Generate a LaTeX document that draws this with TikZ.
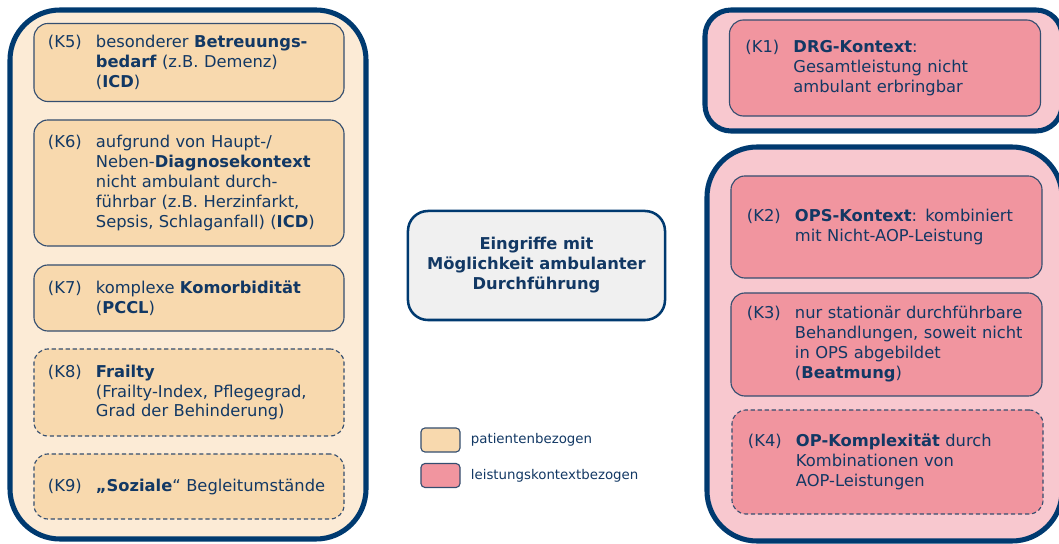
\documentclass[tikz,border=0pt]{standalone}
\usepackage{fontspec}
\setmainfont{DejaVu Sans}
\usetikzlibrary{positioning}

\definecolor{navy}{RGB}{0,58,112}
\definecolor{ink}{RGB}{18,56,100}
\definecolor{frame}{RGB}{52,78,112}
\definecolor{peachlight}{RGB}{252,235,214}
\definecolor{peach}{RGB}{248,217,174}
\definecolor{roselight}{RGB}{248,200,207}
\definecolor{rose}{RGB}{241,149,159}
\definecolor{hubgray}{RGB}{240,240,240}

% label (Kn) followed by the text block
\newcommand{\kitem}[2]{\makebox[1.2cm][l]{(#1)}\begin{minipage}[t]{5.8cm}#2\end{minipage}}

\begin{document}
\begin{tikzpicture}[
  x=0.025cm, y=-0.025cm,
  every node/.style = {font=\fontsize{11.6}{14.2}\selectfont, text=ink},
  container/.style  = {draw=navy, line width=3.6pt, rounded corners=1.25cm},
  pbox/.style       = {draw=frame, line width=0.8pt, fill=peach, rounded corners=0.35cm,
                       minimum width=7.75cm, text width=7.05cm, inner xsep=0.35cm, align=left},
  lbox/.style       = {pbox, fill=rose, minimum width=7.775cm, text width=6.975cm, inner xsep=0.4cm},
  soft/.style       = {dash pattern=on 3pt off 2pt},
  keybox/.style     = {draw=frame, line width=0.8pt, rounded corners=0.1cm,
                       minimum width=0.975cm, minimum height=0.6cm, inner sep=0pt},
  keytext/.style    = {font=\fontsize{9.5}{11}\selectfont, inner sep=0pt},
]
\useasboundingbox (0,0) rectangle (1059,544);
\clip (0,0) rectangle (1059,544);

% ── Containers ──────────────────────────────────────────────────────────────
\draw[container, fill=peachlight] (10,10) rectangle (366,539);
\draw[container, fill=roselight, rounded corners=0.65cm] (705,10) rectangle (1062,131);
\draw[container, fill=roselight] (707,147) rectangle (1062,541);

% ── Patient-related criteria ────────────────────────────────────────────────
\node[pbox, minimum height=1.95cm] (k5) at (189,62.5)
  {\kitem{K5}{besonderer \textbf{Betreuungs-}\\\textbf{bedarf} (z.B. Demenz)\\(\textbf{ICD})}};
\node[pbox, minimum height=3.15cm] (k6) at (189,183)
  {\kitem{K6}{aufgrund von Haupt-/\\Neben-\textbf{Diagnosekontext}\\nicht ambulant durch-\\führbar (z.B. Herzinfarkt,\\Sepsis, Schlaganfall) (\textbf{ICD})}};
\node[pbox, minimum height=1.65cm] (k7) at (189,298)
  {\kitem{K7}{komplexe \textbf{Komorbidität}\\(\textbf{PCCL})}};
\node[pbox, soft, minimum height=2.175cm] (k8) at (189,392.5)
  {\kitem{K8}{\textbf{Frailty}\\(Frailty-Index, Pflegegrad,\\Grad der Behinderung)}};
\node[pbox, soft, minimum height=1.625cm] (k9) at (189,486.5)
  {\kitem{K9}{\textbf{„Soziale}“ Begleitumstände}};

% ── Service-context criteria ────────────────────────────────────────────────
\node[lbox, minimum height=2.4cm] (k1) at (885,68)
  {\kitem{K1}{\textbf{DRG-Kontext}:\\Gesamtleistung nicht\\ambulant erbringbar}};
\node[lbox, minimum height=2.55cm] (k2) at (886.5,227)
  {\kitem{K2}{\textbf{OPS-Kontext}: kombiniert\\mit Nicht-AOP-Leistung}};
\node[lbox, minimum height=2.575cm] (k3) at (886.5,344.5)
  {\kitem{K3}{nur stationär durchführbare\\Behandlungen, soweit nicht\\in OPS abgebildet\\(\textbf{Beatmung})}};
\node[lbox, soft, minimum height=2.6cm] (k4) at (887.5,462)
  {\kitem{K4}{\textbf{OP-Komplexität} durch\\Kombinationen von\\AOP-Leistungen}};

% ── Centre ──────────────────────────────────────────────────────────────────
\node[draw=navy, line width=1.8pt, fill=hubgray, rounded corners=0.5cm,
      minimum width=6.425cm, minimum height=2.725cm, align=center,
      font=\fontsize{11.6}{14.2}\selectfont\bfseries] (hub) at (536.5,265.5)
  {Eingriffe mit\\Möglichkeit ambulanter\\Durchführung};

% ── Legend ──────────────────────────────────────────────────────────────────
\node[keybox, fill=peach] (keyp) at (440.5,440) {};
\node[keytext, right=0.25cm of keyp] (keyptxt) {patientenbezogen};
\node[keybox, fill=rose] (keyl) at (440.5,475.5) {};
\node[keytext, right=0.25cm of keyl] (keyltxt) {leistungskontextbezogen};

\end{tikzpicture}
\end{document}
